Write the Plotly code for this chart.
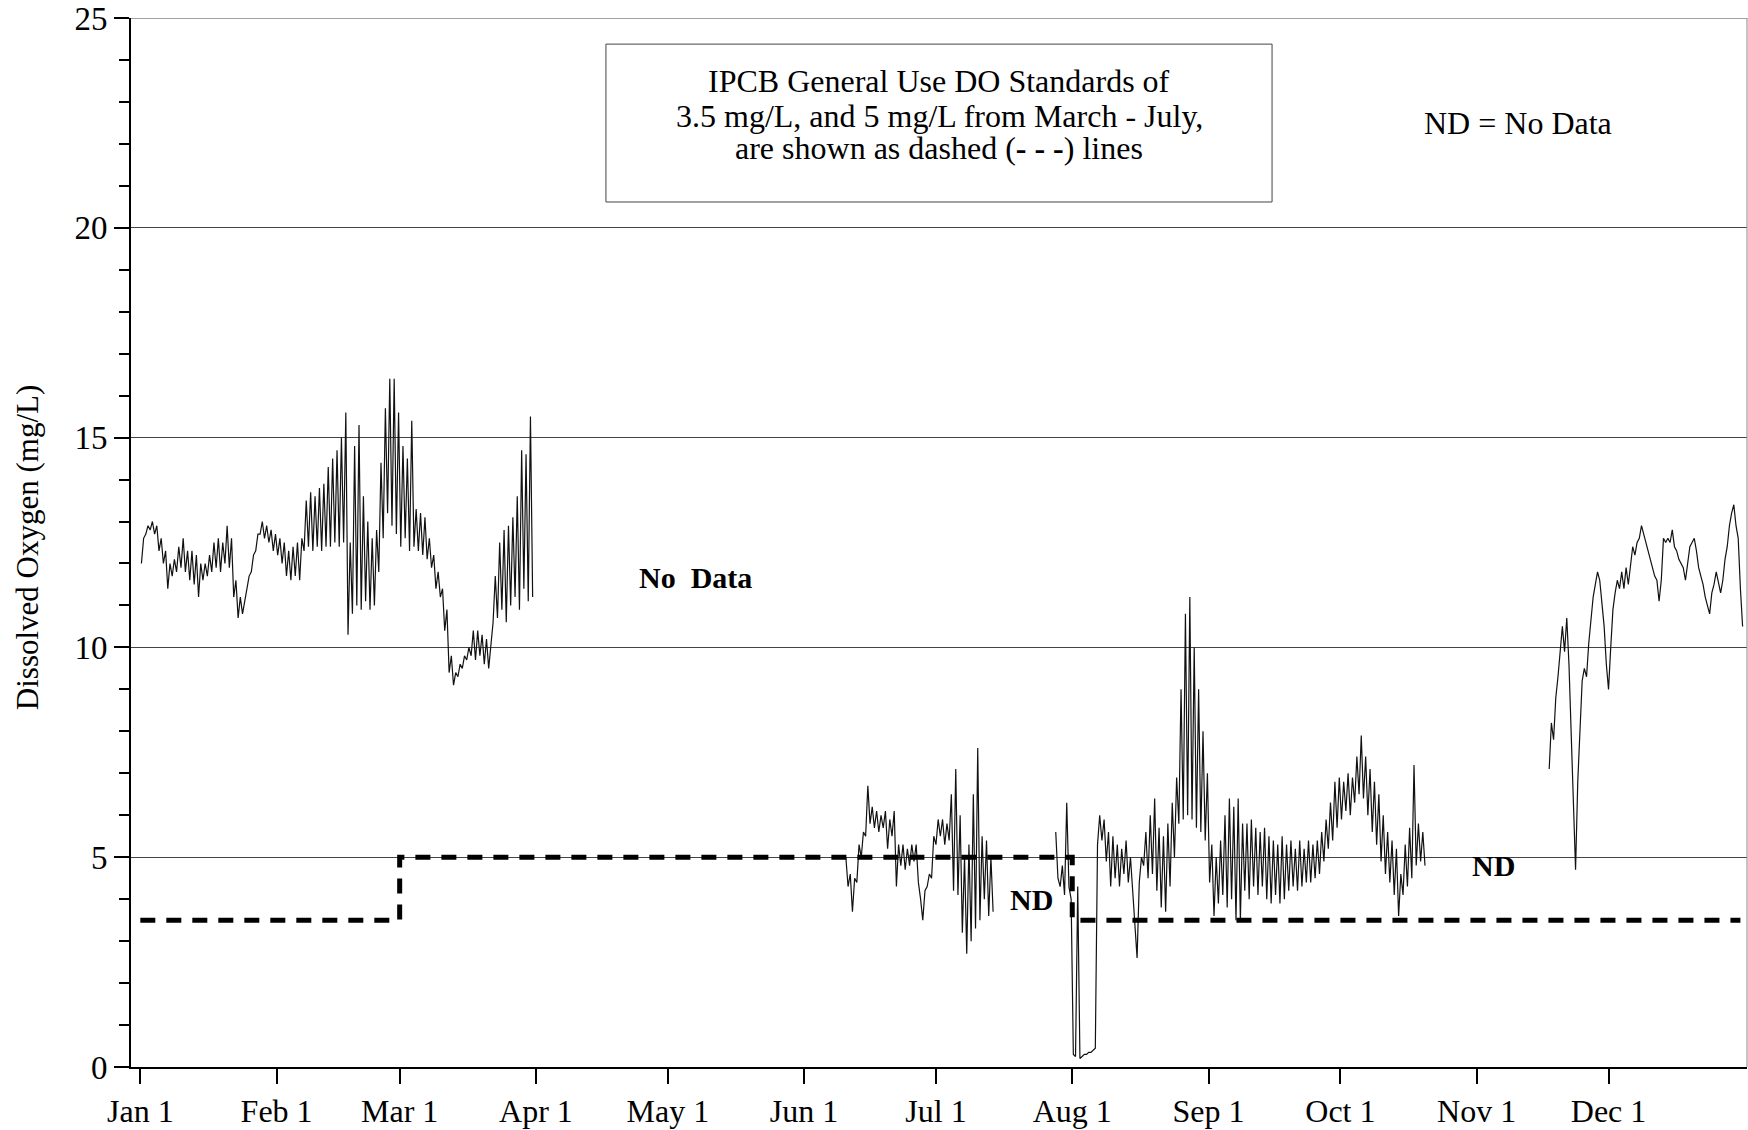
import plotly.graph_objects as go
import pandas as pd

FONT = "Liberation Serif, Times New Roman, Times, serif"

# ---------------- data ----------------
# Dissolved oxygen (mg/L), 12-hour readings (approx. morning low / evening high)
seg1_start = "2001-01-01 06:00"
seg1_do = [12.0, 12.6, 12.7, 12.9, 12.8, 13.0, 12.7, 12.9, 12.3, 12.6,
           12.0, 12.3, 11.4, 12.0, 11.7, 12.1, 11.8, 12.4, 11.9, 12.6,
           11.8, 12.3, 11.6, 12.3, 11.5, 12.2, 11.2, 12.0, 11.6, 12.0,
           11.7, 12.2, 11.8, 12.5, 11.9, 12.6, 11.8, 12.5, 12.0, 12.9,
           11.9, 12.6, 11.2, 11.6, 10.7, 11.2, 10.8, 11.1, 11.3, 11.7,
           11.8, 12.2, 12.3, 12.7, 12.7, 13.0, 12.6, 12.9, 12.5, 12.8,
           12.3, 12.7, 12.2, 12.6, 12.0, 12.5, 11.7, 12.3, 11.6, 12.4,
           11.7, 12.5, 11.6, 12.6, 12.3, 13.5, 12.4, 13.7, 12.3, 13.6,
           12.4, 13.8, 12.3, 13.9, 12.4, 14.3, 12.4, 14.5, 12.5, 14.7,
           12.4, 15.0, 12.5, 15.6, 10.3, 12.5, 10.8, 14.8, 11.0, 15.3,
           10.9, 13.6, 11.1, 13.0, 10.9, 12.6, 11.0, 12.8, 11.8, 14.4,
           12.6, 15.7, 13.2, 16.4, 12.9, 16.4, 12.7, 15.6, 12.4, 14.8,
           12.6, 14.5, 12.3, 15.4, 12.4, 13.3, 12.3, 13.2, 12.2, 13.1,
           12.1, 12.6, 11.9, 12.2, 11.4, 11.8, 11.2, 11.4, 10.4, 10.9,
           9.4, 9.8, 9.1, 9.4, 9.3, 9.6, 9.5, 9.8, 9.7, 10.0,
           9.8, 10.4, 9.7, 10.4, 9.8, 10.3, 9.6, 10.2, 9.5, 10.0,
           10.6, 11.7, 10.7, 12.5, 10.9, 12.8, 10.6, 12.9, 11.0, 13.1,
           11.2, 13.6, 10.9, 14.7, 11.4, 14.6, 11.1, 15.5, 11.2]

seg2_start = "2001-06-10 12:00"
seg2_do = [5.0, 4.3, 4.6, 3.7, 4.5, 4.4, 5.3, 5.0, 5.6, 5.5,
           6.7, 5.8, 6.2, 5.7, 6.1, 5.6, 6.0, 5.7, 6.1, 5.2,
           5.9, 5.5, 6.1, 4.3, 5.3, 4.8, 5.3, 4.7, 5.2, 4.8,
           5.3, 4.9, 5.3, 4.4, 4.0, 3.5, 4.2, 4.3, 4.6, 4.5,
           5.5, 5.3, 5.9, 5.5, 5.9, 5.3, 5.8, 5.4, 6.5, 4.2,
           7.1, 4.1, 6.0, 3.2, 5.0, 2.7, 5.3, 3.0, 6.5, 3.3,
           7.6, 3.5, 5.5, 4.0, 5.4, 3.6, 5.0, 3.7]

seg3_start = "2001-07-28 06:00"
seg3_do = [5.6, 4.5, 4.3, 4.8, 4.1, 6.3, 4.3, 4.0,
           0.3, 0.25, 4.3, 0.2, 0.25, 0.3, 0.3, 0.35, 0.35, 0.4, 0.45, 5.3,
           6.0, 5.4, 5.9, 4.9, 5.6, 4.3, 5.5, 4.5, 5.3, 4.3, 5.2, 4.6, 5.4, 4.4, 5.0, 4.2,
           3.5, 2.6, 4.4, 5.0, 4.8, 5.6, 4.5, 6.0, 4.6, 6.4, 4.2, 5.7, 3.8, 5.5, 3.7, 5.8,
           4.3, 6.3, 5.0, 6.9, 5.8, 9.0, 5.9, 10.8, 6.0, 11.2, 5.9, 10.0, 5.7, 9.0, 5.6, 8.0,
           5.4, 7.0, 4.4, 5.3, 3.6, 5.0, 3.9, 5.4, 4.1, 6.0, 3.8, 6.4, 4.0, 6.2, 3.5, 6.4,
           3.5, 5.8, 4.2, 5.8, 4.0, 5.9, 4.3, 5.7, 4.1, 5.6, 4.3, 5.7, 4.0, 5.5, 3.9, 5.4,
           4.1, 5.3, 3.9, 5.5, 4.0, 5.3, 4.2, 5.4, 4.3, 5.2, 4.2, 5.4, 4.3, 5.2, 4.4, 5.4,
           4.4, 5.3, 4.5, 5.4, 4.6, 5.6, 4.9, 5.9, 5.2, 6.3, 5.4, 6.8, 5.7, 6.9, 5.9, 6.8,
           6.1, 7.0, 6.0, 6.9, 6.3, 7.4, 6.5, 7.9, 6.4, 7.4, 6.0, 7.1, 5.6, 6.8, 5.3, 6.5,
           4.9, 6.0, 4.6, 5.6, 4.4, 5.4, 4.1, 5.2, 3.6, 4.6, 4.1, 5.3, 4.3, 5.7, 4.5, 7.2,
           4.8, 5.8, 4.9, 5.6, 4.8]

seg4_start = "2001-11-17 12:00"
seg4_do = [7.1, 8.2, 7.8, 8.8, 9.3, 9.9, 10.5, 9.9, 10.7, 9.6,
           8.0, 6.2, 4.7, 6.8, 8.2, 9.2, 9.5, 9.3, 10.1, 10.6,
           11.2, 11.5, 11.8, 11.6, 11.0, 10.5, 9.6, 9.0, 10.0, 10.9,
           11.3, 11.6, 11.4, 11.8, 11.4, 11.9, 11.5, 11.9, 12.4, 12.2,
           12.5, 12.6, 12.9, 12.7, 12.5, 12.3, 12.05, 11.9, 11.7, 11.6,
           11.1, 11.6, 12.6, 12.5, 12.6, 12.5, 12.8, 12.4, 12.3, 12.1,
           12.0, 11.9, 11.6, 12.0, 12.4, 12.5, 12.6, 12.3, 11.9, 11.7,
           11.5, 11.2, 11.0, 10.8, 11.3, 11.5, 11.8, 11.5, 11.3, 11.6,
           12.1, 12.4, 12.9, 13.2, 13.4, 12.9, 12.6, 11.4, 10.5]

# IPCB general use DO standard (mg/L)
std_dates = ["2001-01-01", "2001-03-01", "2001-03-01", "2001-08-01", "2001-08-01", "2001-12-31"]
std_values = [3.5, 3.5, 5.0, 5.0, 3.5, 3.5]

month_ticks = ["2001-01-01", "2001-02-01", "2001-03-01", "2001-04-01", "2001-05-01", "2001-06-01",
               "2001-07-01", "2001-08-01", "2001-09-01", "2001-10-01", "2001-11-01", "2001-12-01"]
month_labels = ["Jan 1", "Feb 1", "Mar 1", "Apr 1", "May 1", "Jun 1",
                "Jul 1", "Aug 1", "Sep 1", "Oct 1", "Nov 1", "Dec 1"]
y_ticks = [0, 5, 10, 15, 20, 25]

# ---------------- figure ----------------
fig = go.Figure()

for start, vals in [(seg1_start, seg1_do), (seg2_start, seg2_do),
                    (seg3_start, seg3_do), (seg4_start, seg4_do)]:
    xs = pd.date_range(start, periods=len(vals), freq="12h")
    fig.add_trace(go.Scatter(x=xs, y=vals, mode="lines",
                             line=dict(color="#111111", width=1.2),
                             showlegend=False, hoverinfo="x+y"))

fig.add_trace(go.Scatter(x=std_dates, y=std_values, mode="lines",
                         line=dict(color="black", width=5, dash="15px,11px"),
                         showlegend=False))

x_lo = pd.Timestamp("2001-01-01") - pd.Timedelta(days=2.12)
x_hi = pd.Timestamp("2001-01-01") + pd.Timedelta(days=365.5)

fig.update_layout(
    width=1748, height=1130,
    margin=dict(l=131, r=1, t=16, b=58),
    paper_bgcolor="white", plot_bgcolor="white",
    font=dict(family=FONT, size=32, color="black"),
    xaxis=dict(range=[x_lo, x_hi], tickmode="array", tickvals=month_ticks,
               ticktext=month_labels, ticks="outside", ticklen=15, tickwidth=2,
               tickcolor="black", showline=True, linecolor="black", linewidth=2,
               showgrid=False, zeroline=False, ticklabeloverflow="allow",
               tickfont=dict(family=FONT, size=32, color="black")),
    yaxis=dict(range=[0, 25], tickmode="array", tickvals=y_ticks,
               ticks="outside", ticklen=15, tickwidth=2, tickcolor="black",
               showline=True, linecolor="black", linewidth=2,
               showgrid=True, gridcolor="#444444", gridwidth=1, zeroline=False,
               ticklabeloverflow="allow",
               minor=dict(dtick=1, tick0=0, ticks="outside", ticklen=10,
                          tickwidth=2, tickcolor="black", showgrid=False),
               tickfont=dict(family=FONT, size=33, color="black")),
)

# top gridline / right border
fig.add_shape(type="line", xref="paper", yref="y", x0=0, x1=1, y0=25, y1=25,
              line=dict(color="#444444", width=1))
fig.add_shape(type="line", xref="paper", yref="paper", x0=1, x1=1, y0=0, y1=1,
              line=dict(color="#888888", width=1))

# standards note box
fig.add_shape(type="rect", xref="paper", yref="paper",
              x0=0.2939, x1=0.7061, y0=0.8246, y1=0.9751,
              line=dict(color="#444444", width=1), fillcolor="rgba(0,0,0,0)")
box_lines = ["IPCB General Use DO Standards of",
             "3.5 mg/L, and 5 mg/L from March - July,",
             "are shown as dashed (<b>- - -</b>) lines"]
for txt, yy in zip(box_lines, [0.9395, 0.9070, 0.8765]):
    fig.add_annotation(text=txt, xref="paper", yref="paper", x=0.5, y=yy,
                       xanchor="center", yanchor="middle", showarrow=False,
                       font=dict(family=FONT, size=32, color="black"))

fig.add_annotation(text="ND = No Data", xref="paper", yref="paper", x=0.8583, y=0.8995,
                   xanchor="center", yanchor="middle", showarrow=False,
                   font=dict(family=FONT, size=32, color="black"))
fig.add_annotation(text="<b>No\u2002Data</b>", xref="paper", yref="paper", x=0.3496, y=0.4665,
                   xanchor="center", yanchor="middle", showarrow=False,
                   font=dict(family=FONT, size=30, color="black"))
fig.add_annotation(text="<b>ND</b>", xref="paper", yref="paper", x=0.5575, y=0.1593,
                   xanchor="center", yanchor="middle", showarrow=False,
                   font=dict(family=FONT, size=30, color="black"))
fig.add_annotation(text="<b>ND</b>", xref="paper", yref="paper", x=0.8434, y=0.1918,
                   xanchor="center", yanchor="middle", showarrow=False,
                   font=dict(family=FONT, size=30, color="black"))

# y-axis title
fig.add_annotation(text="Dissolved Oxygen (mg/L)", xref="paper", yref="paper",
                   x=-0.0644, y=0.4955, textangle=-90, xanchor="center", yanchor="middle",
                   showarrow=False, font=dict(family=FONT, size=31, color="black"))

fig.write_html("out.html", config={"displayModeBar": False},
               post_script="document.body.style.margin='0px';document.body.style.overflow='hidden';")
